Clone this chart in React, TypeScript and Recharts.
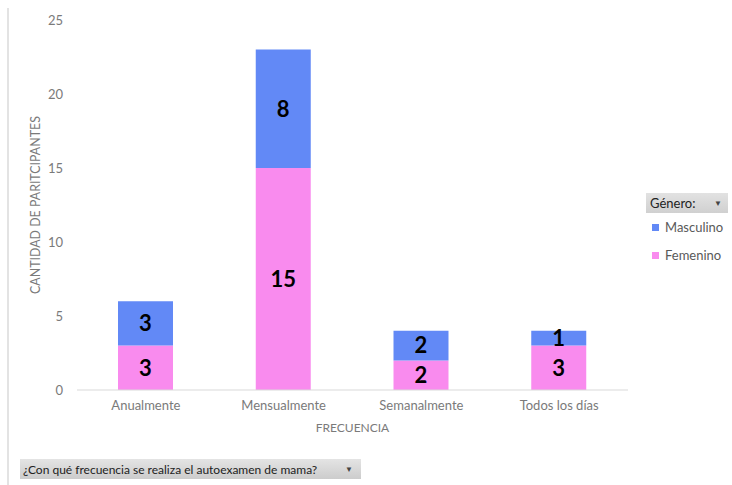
import React from 'react';
import { BarChart, Bar, XAxis, YAxis, LabelList } from 'recharts';

const categories = ['Anualmente', 'Mensualmente', 'Semanalmente', 'Todos los días'];
const femenino = [3, 15, 2, 3];
const masculino = [3, 8, 2, 1];
const yTicks = [0, 5, 10, 15, 20, 25];
const seriesNames = ['Femenino', 'Masculino'];

const data = categories.map((c, i) => ({ name: c, Femenino: femenino[i], Masculino: masculino[i] }));

const FONT = 'Lato, "Open Sans", sans-serif';
const PINK = '#F98BEE';
const BLUE = '#6289F6';
const seriesColors: Record<string, string> = { Femenino: PINK, Masculino: BLUE };

export default function App() {
  const legendItems = [...seriesNames].reverse();
  return (
    <div style={{ position: 'absolute', left: 0, top: 0, width: 732, height: 485, background: '#fff', fontFamily: FONT }}>
      <div style={{ position: 'absolute', left: 7, top: 8, width: 2, height: 477, background: '#e3e3e3' }} />
      <BarChart
        width={732}
        height={485}
        data={data}
        margin={{ top: 20, right: 104, bottom: 0, left: 0 }}
        barSize={55}
      >
        <XAxis
          dataKey="name"
          height={95}
          tickLine={false}
          axisLine={{ stroke: '#d9d9d9' }}
          tick={{ fill: '#7a7a7a', fontSize: 13, fontFamily: FONT }}
          tickMargin={5}
          label={{ value: 'FRECUENCIA', position: 'insideTop', offset: 33, fill: '#7a7a7a', fontSize: 12, fontFamily: FONT }}
        />
        <YAxis
          width={77}
          domain={[0, 25]}
          ticks={yTicks}
          tickLine={false}
          axisLine={false}
          tickMargin={8}
          tick={{ fill: '#7a7a7a', fontSize: 13, fontFamily: FONT }}
          label={{
            value: 'CANTIDAD DE PARITCIPANTES',
            angle: -90,
            position: 'insideLeft',
            offset: 36,
            fill: '#7a7a7a',
            fontSize: 12.4,
            fontFamily: FONT,
            style: { textAnchor: 'middle' },
          }}
        />
        <Bar dataKey="Femenino" stackId="a" fill={PINK} isAnimationActive={false}>
          <LabelList dataKey="Femenino" position="center" fill="#000" fontSize={22} fontWeight="bold" fontFamily={FONT} />
        </Bar>
        <Bar dataKey="Masculino" stackId="a" fill={BLUE} isAnimationActive={false}>
          <LabelList dataKey="Masculino" position="center" fill="#000" fontSize={22} fontWeight="bold" fontFamily={FONT} />
        </Bar>
      </BarChart>

      <div style={{ position: 'absolute', left: 646, top: 193, width: 82, fontFamily: FONT }}>
        <div
          style={{
            height: 20,
            background: 'linear-gradient(#e2e2e2, #d0d0d0)',
            display: 'flex',
            alignItems: 'center',
            justifyContent: 'space-between',
            padding: '0 6px 0 4px',
            fontSize: 13,
            color: '#222',
            boxSizing: 'border-box',
          }}
        >
          <span>Género:</span>
          <span style={{ fontSize: 8, color: '#444' }}>▼</span>
        </div>
        {legendItems.map((name) => (
          <div key={name} style={{ display: 'flex', alignItems: 'center', height: 28, color: '#595959', fontSize: 13 }}>
            <span style={{ display: 'inline-block', width: 7, height: 7, background: seriesColors[name], marginLeft: 6, marginRight: 6 }} />
            <span>{name}</span>
          </div>
        ))}
      </div>

      <div
        style={{
          position: 'absolute',
          left: 20,
          top: 459,
          width: 341,
          height: 20,
          background: 'linear-gradient(#e4e4e4, #cccccc)',
          display: 'flex',
          alignItems: 'center',
          justifyContent: 'space-between',
          padding: '0 8px 0 3px',
          boxSizing: 'border-box',
          fontSize: 12,
          color: '#222',
          fontFamily: FONT,
        }}
      >
        <span>¿Con qué frecuencia se realiza el autoexamen de mama?</span>
        <span style={{ fontSize: 8, color: '#444' }}>▼</span>
      </div>
    </div>
  );
}
